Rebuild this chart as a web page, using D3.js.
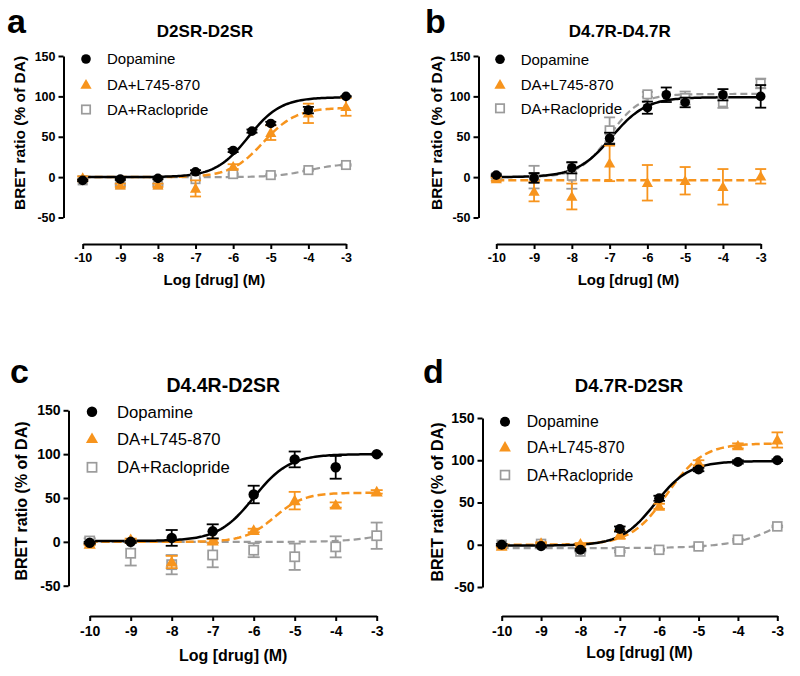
<!DOCTYPE html>
<html><head><meta charset="utf-8">
<script src="https://cdn.jsdelivr.net/npm/d3@7"></script>
<style>body{margin:0;background:#fff}svg{display:block}</style>
</head><body>
<script>
// ---------- DATA ----------
const panelLetters = ["a", "b", "c", "d"];
const panelTitles = ["D2SR-D2SR", "D4.7R-D4.7R", "D4.4R-D2SR", "D4.7R-D2SR"];
const seriesNames = ["Dopamine", "DA+L745-870", "DA+Raclopride"];
const yTickValues = [-50, 0, 50, 100, 150];
const xTickValues = [-10, -9, -8, -7, -6, -5, -4, -3];
const xTitle = "Log [drug] (M)";
const yTitle = "BRET ratio (% of DA)";

const logDose = [-10, -9, -8, -7, -6, -5, -4, -3];
const logDoseDA = [-10, -9, -8, -7, -6, -5.5, -5, -4, -3];

// panel a
const aDopamine = [-4, -2.5, -1.6, 6.6, 33, 57, 66.5, 83, 100];
const aDopamineSEM = [1, 1, 1, 2, 2, 2, 2, 4, 0.5];
const aL745 = [-1, -10, -10, -14, 13, 55, 79, 87];
const aL745SEM = [2, 2, 2, 10, 3, 9, 12, 11];
const aRaclo = [-4, -9, -9, -2.5, 3.7, 2.5, 8.7, 15];
const aRacloSEM = [1, 1, 1, 1, 1, 1, 1, 1];
// fits: [bottom, top, logEC50, hill]
const aFitDopamine = [0, 99, -5.6, 1];
const aFitL745 = [0, 86, -5.2, 1];
const aFitRaclo = [0, 17, -4, 1];

// panel b
const bDopamine = [2.5, -1, 11.6, 48, 86, 102, 92.5, 102, 100];
const bDopamineSEM = [1, 6, 7, 7, 7.5, 9, 6, 7, 14];
const bL745 = [-2.5, -18, -24, 17, -7, -4.5, -12, 1];
const bL745SEM = [2, 12, 16, 22, 22, 17, 22, 9];
const bRaclo = [0, 0, 1.6, 58, 102.5, 98, 92.7, 116];
const bRacloSEM = [1, 14, 16, 16, 3, 8, 7, 6];
const bFitDopamine = [0, 99, -6.95, 0.95];
const bFitL745 = [-4, -4, -7, 1];
const bFitRaclo = [0, 103, -7.0, 1.1];

// panel c
const cDopamine = [-1, 0, 4.5, 12, 54, 94, 85, 100];
const cDopamineSEM = [1, 1, 9, 8, 10, 9, 13, 0.5];
const cL745 = [-2.6, 2.7, -23, 1, 13, 47, 42, 57];
const cL745SEM = [1, 1, 7, 2, 2, 10, 3, 2];
const cRaclo = [1, -13, -26, -15, -9.5, -17, -5.7, 7];
const cRacloSEM = [3, 14, 11, 14, 8, 15, 12, 15];
const cFitDopamine = [1, 100, -6.0, 1];
const cFitL745 = [0, 56, -5.5, 1.2];
const cFitRaclo = [0, 12, -3, 1];

// panel d
const dDopamine = [0, -1.6, -6, 18.6, 55, 89, 98, 100];
const dDopamineSEM = [1, 1, 1, 3, 3, 2, 2, 1];
const dL745 = [-2, 2, 1, 12, 45.5, 97, 117, 124];
const dL745SEM = [1, 1, 1, 5, 3, 3, 3, 9];
const dRaclo = [0, 1, -8, -8, -6, -2, 6, 21.7];
const dRacloSEM = [1, 1, 1, 1, 1, 1, 1, 1];
const dFitDopamine = [-1, 99, -6.1, 1];
const dFitL745 = [0, 120, -5.8, 0.95];
const dFitRaclo = [-4, 100, -2.2, 0.6];

// ---------- assembly ----------
const panelsData = [
  {dx: [logDoseDA, logDose, logDose], y: [aDopamine, aL745, aRaclo], e: [aDopamineSEM, aL745SEM, aRacloSEM], fit: [aFitDopamine, aFitL745, aFitRaclo]},
  {dx: [logDoseDA, logDose, logDose], y: [bDopamine, bL745, bRaclo], e: [bDopamineSEM, bL745SEM, bRacloSEM], fit: [bFitDopamine, bFitL745, bFitRaclo]},
  {dx: [logDose, logDose, logDose], y: [cDopamine, cL745, cRaclo], e: [cDopamineSEM, cL745SEM, cRacloSEM], fit: [cFitDopamine, cFitL745, cFitRaclo]},
  {dx: [logDose, logDose, logDose], y: [dDopamine, dL745, dRaclo], e: [dDopamineSEM, dL745SEM, dRacloSEM], fit: [dFitDopamine, dFitL745, dFitRaclo]}
];

// ---------- layout / style ----------
const FONT = "Arial, 'Liberation Sans', Helvetica, sans-serif";
const colors = ["#000000", "#F7941D", "#9B9B9B"];
const layout = [
  {lx: 7, ly: 33, titleX: 205, titleY: 37, axisX: 63.5, x0: 82.7, x1: 346, yTop: 56, yBot: 217.5, xAxisY: 244,
   tickFont: 12.5, tickPad: 4, xTitleFont: 15, xTitleY: 285, yTitleFont: 15.5, yTitleX: 20, yTitleY: 133,
   titleFont: 17, legFont: 15, legX: 86, legTX: 107, legY: [59, 84.5, 109.5], s: 1},
  {lx: 425, ly: 33, titleX: 619.7, titleY: 37, axisX: 478.5, x0: 496.3, x1: 760.7, yTop: 56, yBot: 217.5, xAxisY: 244,
   tickFont: 12.5, tickPad: 4, xTitleFont: 15, xTitleY: 285, yTitleFont: 15.5, yTitleX: 437, yTitleY: 133,
   titleFont: 17, legFont: 15, legX: 500, legTX: 520.7, legY: [59.3, 84.5, 108.3], s: 1},
  {lx: 10, ly: 383, titleX: 223.3, titleY: 391.5, axisX: 68.5, x0: 89.7, x1: 376.7, yTop: 410.3, yBot: 585.7, xAxisY: 616,
   tickFont: 14, tickPad: 5, xTitleFont: 16, xTitleY: 661, yTitleFont: 16, yTitleX: 21, yTitleY: 501,
   titleFont: 19.5, legFont: 16.7, legX: 92, legTX: 117, legY: [411.7, 438.5, 467.3], s: 1.09},
  {lx: 423, ly: 383, titleX: 629, titleY: 391.7, axisX: 482.5, x0: 501.7, x1: 777.3, yTop: 418, yBot: 587, xAxisY: 616,
   tickFont: 14, tickPad: 5, xTitleFont: 15.7, xTitleY: 658, yTitleFont: 16, yTitleX: 437, yTitleY: 502,
   titleFont: 18.6, legFont: 15.8, legX: 505, legTX: 526.7, legY: [421.7, 447, 475], s: 1.05}
];

const svg = d3.select("body").append("svg").attr("width", 800).attr("height", 676)
  .style("font-family", FONT);

function fourPL(p, xv) {
  return p[0] + (p[1] - p[0]) / (1 + Math.pow(10, (p[2] - xv) * p[3]));
}

function drawMarker(g, kind, cx, cy, s) {
  if (kind === 0) {
    g.append("circle").attr("cx", cx).attr("cy", cy).attr("r", 4.8 * s).attr("fill", colors[0]);
  } else if (kind === 1) {
    const h = 5.6 * s;
    g.append("path")
      .attr("d", `M${cx},${cy - h} L${cx + h * 1.0},${cy + h * 0.75} L${cx - h * 1.0},${cy + h * 0.75} Z`)
      .attr("fill", colors[1]);
  } else {
    const w = 8.4 * s;
    g.append("rect").attr("x", cx - w / 2).attr("y", cy - w / 2).attr("width", w).attr("height", w)
      .attr("fill", "#fff").attr("stroke", colors[2]).attr("stroke-width", 1.7);
  }
}

panelsData.forEach((pd, pi) => {
  const L = layout[pi];
  const g = svg.append("g");
  const x = d3.scaleLinear().domain([-10, -3]).range([L.x0, L.x1]);
  const y = d3.scaleLinear().domain([-50, 150]).range([L.yBot, L.yTop]);

  // panel letter & title
  g.append("text").attr("x", L.lx).attr("y", L.ly).text(panelLetters[pi])
    .attr("font-size", 34).attr("font-weight", "bold");
  g.append("text").attr("x", L.titleX).attr("y", L.titleY).text(panelTitles[pi])
    .attr("text-anchor", "middle").attr("font-size", L.titleFont).attr("font-weight", "bold");

  // axes
  const ya = g.append("g").attr("transform", `translate(${L.axisX},0)`)
    .call(d3.axisLeft(y).tickValues(yTickValues).tickSize(5).tickSizeOuter(0).tickPadding(3).tickFormat(d => String(d)));
  const xa = g.append("g").attr("transform", `translate(0,${L.xAxisY})`)
    .call(d3.axisBottom(x).tickValues(xTickValues).tickSize(5).tickSizeOuter(0).tickPadding(L.tickPad).tickFormat(d => String(d)));
  [ya, xa].forEach(a => {
    a.select(".domain").attr("stroke", "#000").attr("stroke-width", 2);
    a.selectAll(".tick line").attr("stroke", "#000").attr("stroke-width", 2);
    a.selectAll(".tick text").attr("fill", "#000").attr("font-size", L.tickFont)
      .attr("font-weight", "bold").attr("font-family", FONT);
  });

  // axis titles
  g.append("text").attr("x", (L.x0 + L.x1) / 2).attr("y", L.xTitleY).text(xTitle)
    .attr("text-anchor", "middle").attr("font-size", L.xTitleFont).attr("font-weight", "bold");
  g.append("text").attr("transform", `translate(${L.yTitleX},${L.yTitleY}) rotate(-90)`)
    .attr("dy", "0.35em").text(yTitle)
    .attr("text-anchor", "middle").attr("font-size", L.yTitleFont).attr("font-weight", "bold");

  // fitted curves (gray, orange, black order)
  const xs = d3.range(-10, -3.0001, 0.05).concat([-3]);
  const line = d3.line().x(d => x(d[0])).y(d => y(d[1]));
  const dashes = ["", "8,4", "7,4"];
  const widths = [2.5, 2.5, 2.2];
  [2, 1, 0].forEach(si => {
    const pts = xs.map(v => [v, fourPL(pd.fit[si], v)]);
    g.append("path").attr("d", line(pts)).attr("fill", "none")
      .attr("stroke", colors[si]).attr("stroke-width", widths[si])
      .attr("stroke-dasharray", dashes[si] || null);
  });

  // error bars and markers
  const cap = 5.5 * L.s;
  [2, 1, 0].forEach(si => {
    const xv = pd.dx[si], yv = pd.y[si], ev = pd.e[si];
    const eg = g.append("g").attr("stroke", colors[si]).attr("stroke-width", 1.8);
    xv.forEach((xx, k) => {
      const cx = x(xx), yHi = y(yv[k] + ev[k]), yLo = y(yv[k] - ev[k]);
      eg.append("line").attr("x1", cx).attr("x2", cx).attr("y1", yHi).attr("y2", yLo);
      eg.append("line").attr("x1", cx - cap).attr("x2", cx + cap).attr("y1", yHi).attr("y2", yHi);
      eg.append("line").attr("x1", cx - cap).attr("x2", cx + cap).attr("y1", yLo).attr("y2", yLo);
    });
    const mg = g.append("g");
    xv.forEach((xx, k) => drawMarker(mg, si, x(xx), y(yv[k]), L.s));
  });

  // legend
  seriesNames.forEach((name, si) => {
    drawMarker(g, si, L.legX, L.legY[si], L.s);
    g.append("text").attr("x", L.legTX).attr("y", L.legY[si]).attr("dy", "0.36em")
      .text(name).attr("font-size", L.legFont);
  });
});
</script>
</body></html>
